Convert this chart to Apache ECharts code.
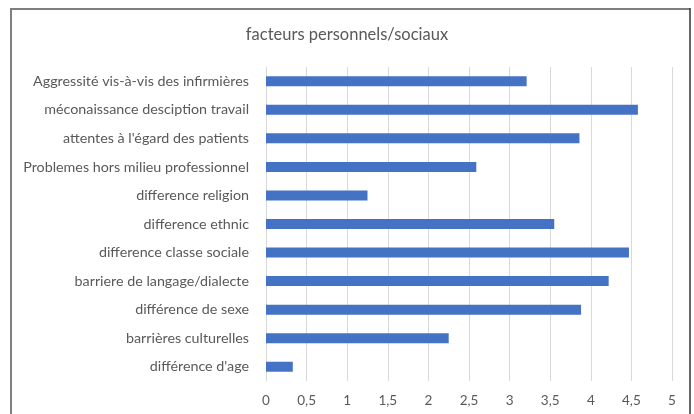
<!DOCTYPE html>
<html>
<head>
<meta charset="utf-8">
<script src="https://cdn.jsdelivr.net/npm/echarts@6/dist/echarts.min.js"></script>
<style>
  html, body { margin: 0; padding: 0; background: #ffffff; }
  #chart { width: 694px; height: 414px; }
</style>
</head>
<body>
<div id="chart"></div>
<script>
// Categories listed top to bottom
const categories = [
  "Aggressité vis-à-vis des infirmières",
  "méconaissance desciption travail",
  "attentes à l'égard des patients",
  "Problemes hors milieu professionnel",
  "difference religion",
  "difference ethnic",
  "difference classe sociale",
  "barriere de langage/dialecte",
  "différence de sexe",
  "barrières culturelles",
  "différence d'age"
];
const values = [3.21, 4.58, 3.86, 2.59, 1.25, 3.55, 4.47, 4.22, 3.88, 2.25, 0.33];
const xTicks = { min: 0, max: 5, interval: 0.5 };
const chartTitle = "facteurs personnels/sociaux";

const chart = echarts.init(document.getElementById('chart'), null, { renderer: 'canvas' });
const fontFamily = 'Lato, "Open Sans", sans-serif';

chart.setOption({
  animation: false,
  backgroundColor: '#ffffff',
  title: {
    text: chartTitle,
    left: 'center',
    top: 21,
    textStyle: { color: '#595959', fontSize: 16.5, fontWeight: 'normal', fontFamily: fontFamily }
  },
  grid: { left: 266, right: 22, top: 67, bottom: 33, containLabel: false },
  xAxis: {
    type: 'value',
    min: xTicks.min,
    max: xTicks.max,
    interval: xTicks.interval,
    axisLine: { show: false },
    axisTick: { show: false },
    splitLine: { show: true, lineStyle: { color: '#d9d9d9', width: 1 } },
    axisLabel: {
      color: '#595959',
      fontSize: 13.5,
      fontFamily: fontFamily,
      margin: 13,
      formatter: v => String(v).replace('.', ',')
    }
  },
  yAxis: {
    type: 'category',
    data: categories,
    inverse: true,
    axisLine: { show: true, lineStyle: { color: '#d9d9d9', width: 1 } },
    axisTick: { show: false },
    axisLabel: { color: '#595959', fontSize: 14.3, fontFamily: fontFamily, margin: 17 }
  },
  series: [{
    type: 'bar',
    data: values,
    barWidth: 10,
    itemStyle: { color: '#4472c4' }
  }],
  graphic: [
    { type: 'line', shape: { x1: 10, y1: 9, x2: 690, y2: 9 }, style: { stroke: '#7f7f7f', lineWidth: 2 } },
    { type: 'line', shape: { x1: 11, y1: 8, x2: 11, y2: 414 }, style: { stroke: '#7f7f7f', lineWidth: 2 } },
    { type: 'line', shape: { x1: 690, y1: 8, x2: 690, y2: 414 }, style: { stroke: '#333333', lineWidth: 1.5 } }
  ]
});
</script>
</body>
</html>
